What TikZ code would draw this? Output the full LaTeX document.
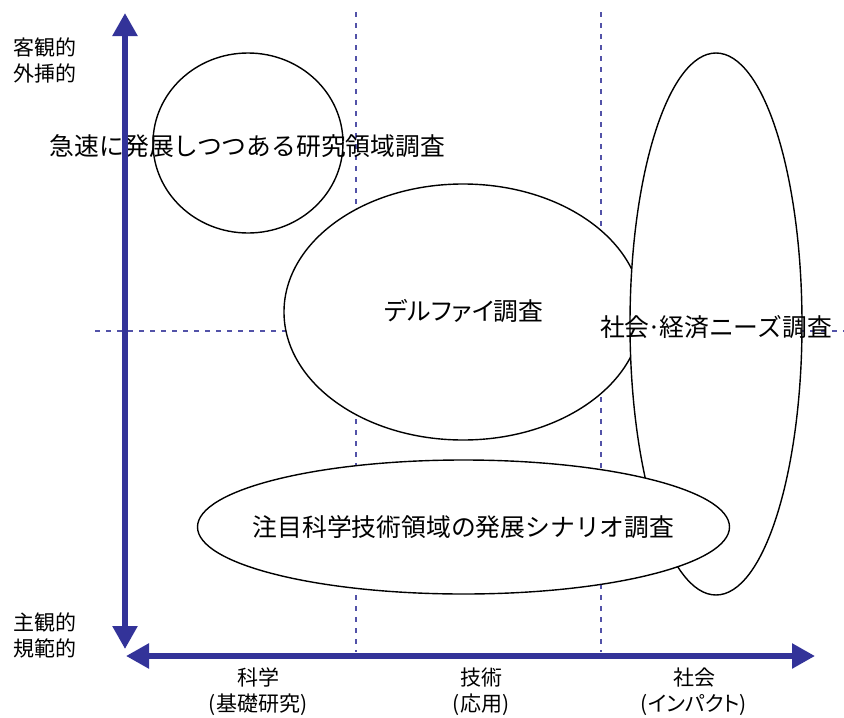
\documentclass[tikz,border=0pt]{standalone}
\usepackage{fontspec}
\setmainfont{Noto Sans CJK JP}
\newfontfamily\paltfont[RawFeature=+palt]{Noto Sans CJK JP}
\usetikzlibrary{arrows.meta,shapes.geometric}
\definecolor{axisblue}{HTML}{333399}
\begin{document}
\begin{tikzpicture}[x=1pt,y=-1pt,
  shapeline/.style={draw=black, line width=1.4pt, fill=white, ellipse, inner sep=0pt, outer sep=0pt},
  guide/.style={draw=axisblue!85, line width=1.3pt, dash pattern=on 5pt off 6pt},
  axisline/.style={draw=axisblue, line width=5.5pt, {Triangle[length=23pt,width=24pt]}-{Triangle[length=23pt,width=24pt]}},
  big/.style={font=\fontsize{24.8}{30}\selectfont, inner sep=0pt},
  lab/.style={font=\fontsize{21}{26}\selectfont, align=center, inner sep=0pt}]
\useasboundingbox (0,0) rectangle (844,718);
% guide coordinates
\coordinate (g1t) at (356,12);
\coordinate (g1b) at (356,652);
\coordinate (g2t) at (601,12);
\coordinate (g2b) at (601,652);
\coordinate (hl) at (95,331);
\coordinate (hr) at (844,331);
\draw[guide] (g1t) -- (g1b);
\draw[guide] (g2t) -- (g2b);
\draw[guide] (hl) -- (hr);
% shapes
\node[shapeline, minimum width=190pt, minimum height=180pt] (circ) at (248,143) {};
\node[shapeline, minimum width=358pt, minimum height=256pt] (delphi) at (463,312) {};
\node[shapeline, minimum width=172pt, minimum height=542pt] (needs) at (716,324) {};
\node[shapeline, minimum width=532pt, minimum height=134pt] (scen) at (463.5,527) {};
% texts
\node[big] (t1) at (247.5,146) {急速に発展しつつある研究領域調査};
\node[big] (t2) at (464,311) {\paltfont デルファイ調査};
\node[big] (t3) at (716,327) {社会\kern-2pt·\kern-2pt 経済ニーズ調査};
\node[big] (t4) at (463.5,527) {注目科学技術領域の発展シナリオ調査};
\node[lab] (ytop) at (45,60) {客観的\\外挿的};
\node[lab] (ybot) at (45,635) {主観的\\規範的};
\node[lab] (x1) at (258,692) {科学\\(基礎研究)};
\node[lab] (x2) at (481,692) {技術\\(応用)};
\node[lab] (x3) at (694,692) {社会\\{\paltfont (インパクト)}};
% axes
\coordinate (vt) at (125,13);
\coordinate (vb) at (125,649);
\coordinate (hle) at (126,656);
\coordinate (hre) at (815,656);
\draw[axisline] (vb) -- (vt);
\draw[axisline] (hle) -- (hre);
\end{tikzpicture}
\end{document}
